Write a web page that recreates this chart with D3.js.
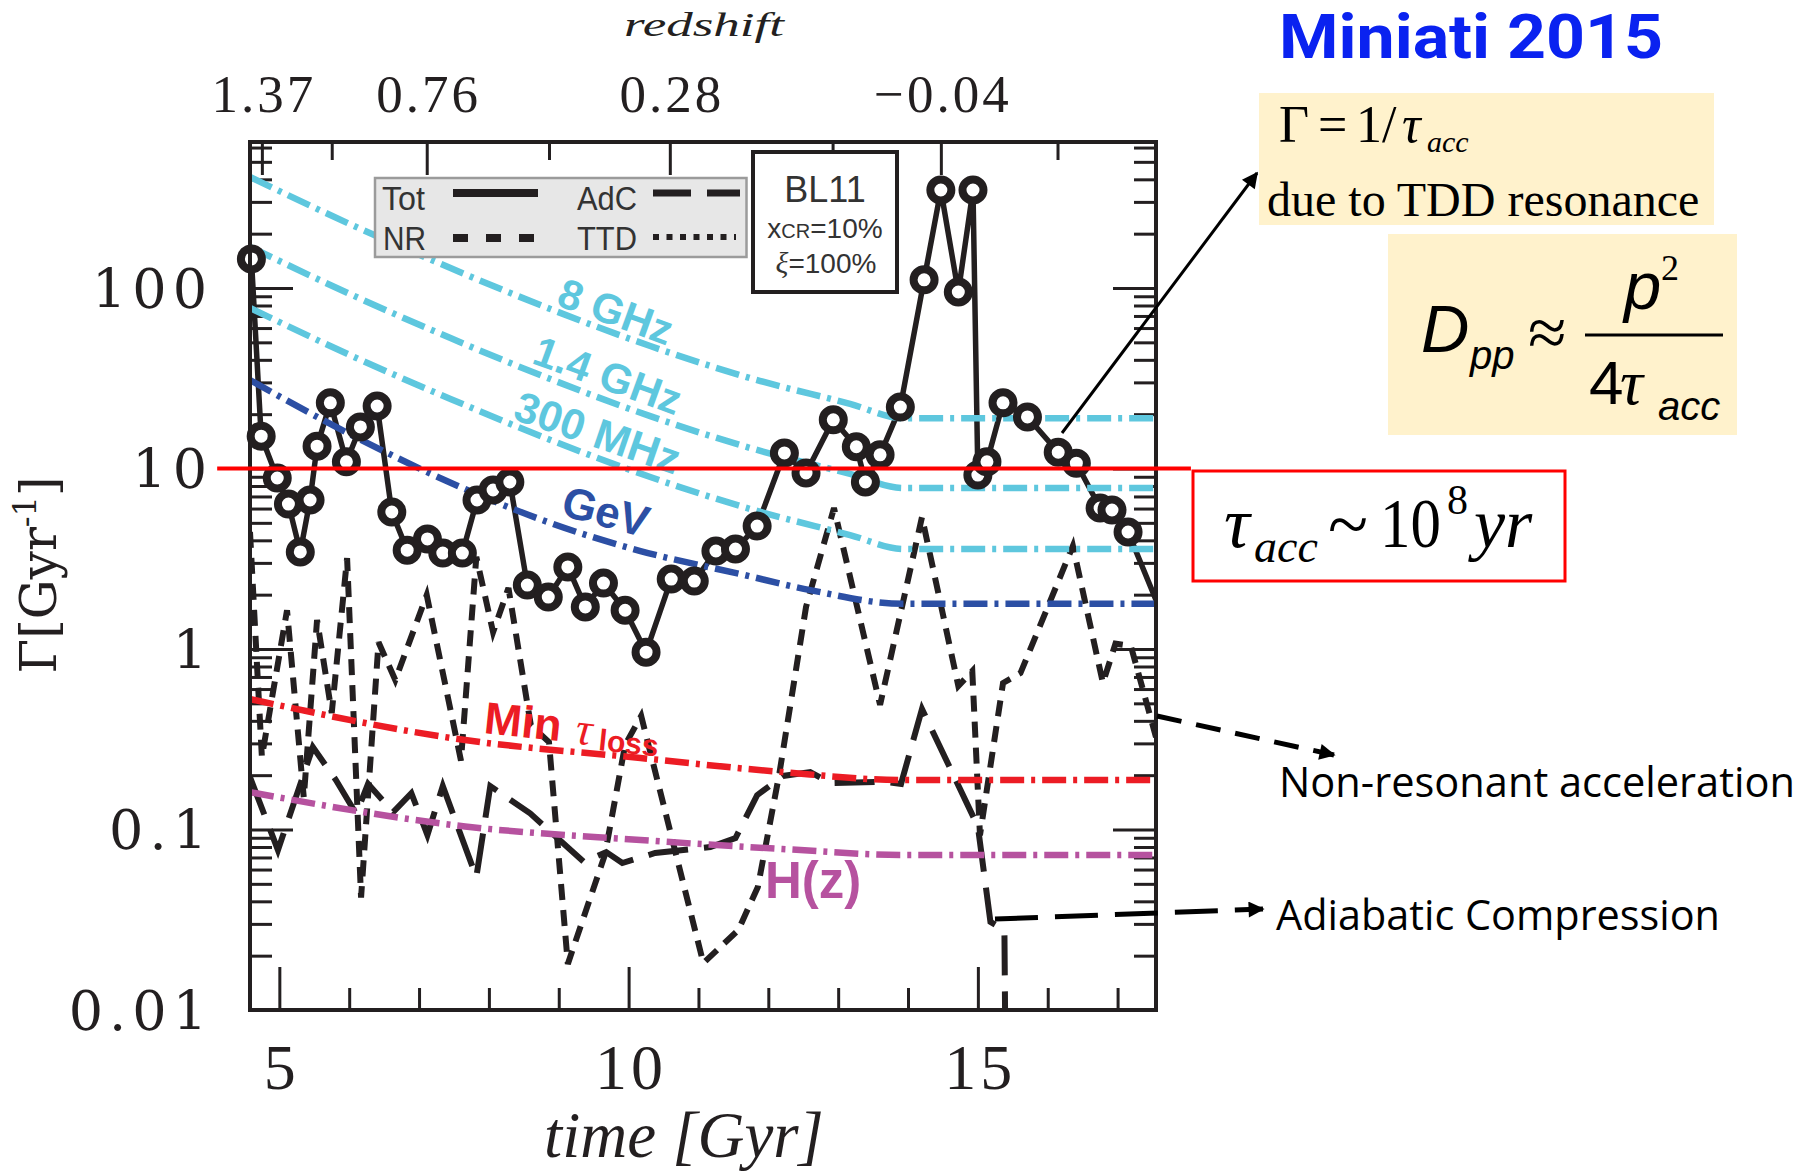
<!DOCTYPE html>
<html>
<head>
<meta charset="utf-8">
<title>Acceleration rates vs cosmic time</title>
<script src="https://cdn.jsdelivr.net/npm/d3@7/dist/d3.min.js"></script>
<style>
  html, body { margin: 0; padding: 0; background: #ffffff; }
  svg { display: block; }
</style>
</head>
<body>
<svg id="chart" width="1804" height="1174"></svg>
<script>
// ---- rates Γ [Gyr^-1] against cosmic time [Gyr] ----
// total turbulent acceleration rate (circles)
const totTime = [4.60, 4.74, 4.97, 5.13, 5.30, 5.44, 5.54, 5.73, 5.96, 6.16, 6.40, 6.61, 6.83, 7.12, 7.34, 7.62, 7.83, 8.06, 8.30, 8.55, 8.85, 9.13, 9.38, 9.64, 9.95, 10.25, 10.61, 10.94, 11.25, 11.53, 11.84, 12.23, 12.54, 12.93, 13.26, 13.39, 13.60, 13.89, 14.23, 14.47, 14.72, 14.93, 15.00, 15.13, 15.36, 15.71, 16.15, 16.41, 16.75, 16.92, 17.15, 17.71];
const totRate = [145, 15.1, 8.86, 6.35, 3.45, 6.69, 13.3, 23.1, 10.9, 17.0, 22.2, 5.74, 3.53, 4.07, 3.40, 3.40, 6.69, 7.60, 8.42, 2.26, 1.94, 2.85, 1.71, 2.32, 1.64, 0.96, 2.44, 2.38, 3.49, 3.58, 4.8, 12.2, 9.44, 18.6, 13.2, 8.42, 11.9, 21.9, 111, 349, 95, 349, 9.2, 10.9, 23.1, 19.3, 12.3, 10.7, 6.04, 5.89, 4.45, 1.32];

// non-resonant component
const nrTime = [4.58, 4.75, 5.11, 5.35, 5.54, 5.75, 5.97, 6.17, 6.42, 6.66, 7.11, 7.60, 7.82, 8.06, 8.28, 8.60, 8.86, 9.13, 9.66, 9.95, 10.18, 11.07, 11.57, 11.85, 12.16, 12.54, 12.94, 13.60, 14.20, 14.72, 14.92, 15.03, 15.36, 15.61, 16.36, 16.79, 16.97, 17.19, 17.55];
const nrRate = [4.45, 0.252, 1.64, 0.150, 1.45, 0.442, 3.19, 0.042, 1.09, 0.673, 1.99, 0.241, 3.24, 1.24, 2.18, 0.379, 0.305, 0.0180, 0.0723, 0.294, 0.426, 0.0182, 0.0277, 0.048, 0.206, 1.71, 6.04, 0.490, 5.38, 0.624, 0.755, 0.093, 0.648, 0.736, 3.72, 0.648, 1.07, 1.04, 0.325];

// adiabatic compression component
const adcTime = [4.58, 4.98, 5.48, 5.81, 6.10, 6.27, 6.63, 6.89, 7.12, 7.34, 7.82, 8.02, 8.59, 9.36, 9.68, 9.91, 10.38, 11.17, 11.53, 11.84, 12.21, 12.60, 12.89, 13.64, 13.90, 14.20, 15.00, 15.18, 15.38, 15.40];
const adcRate = [0.195, 0.0769, 0.286, 0.188, 0.122, 0.179, 0.125, 0.159, 0.0932, 0.174, 0.0545, 0.174, 0.123, 0.0661, 0.075, 0.0652, 0.0741, 0.080, 0.0897, 0.155, 0.198, 0.208, 0.181, 0.184, 0.179, 0.465, 0.104, 0.0308, 0.0277, 0.003];

// synchrotron / energy-loss reference rates
const syncTime = [4.58, 6.01, 7.45, 8.88, 10.31, 11.74, 13.17, 13.93, 17.55];
const ghz8Rate = [412, 226, 129, 76.5, 47.7, 31.7, 22.8, 19.0, 19.0];
const ghz14Rate = [169, 92.6, 52.8, 31.3, 19.5, 13.0, 9.33, 7.80, 7.80];
const mhz300Rate = [77.5, 42.5, 24.3, 14.4, 8.97, 5.97, 4.28, 3.58, 3.58];
const gevTime = [4.58, 6.01, 7.59, 8.88, 10.17, 11.60, 12.60, 13.93, 17.55];
const gevRate = [30.9, 15.5, 7.90, 4.99, 3.49, 2.60, 2.12, 1.78, 1.78];
const slowTime = [4.58, 7.66, 10.17, 12.20, 13.93, 17.55];
const lossRate = [0.528, 0.313, 0.249, 0.208, 0.188, 0.188];
const hubbleRate = [0.161, 0.104, 0.0875, 0.078, 0.0723, 0.0723];

// reference rate Γ = 1/τacc with τacc ~ 1e8 yr
const tauLineTime = [4.11, 18.05];
const tauLineRate = [10, 10];

// axis ticks
const yTickValues = [0.01, 0.1, 1, 10, 100];
const yTickLabels = ['0.01', '0.1', '1', '10', '100'];
const xTickValues = [5, 10, 15];
const xMinorTicks = [6, 7, 8, 9, 11, 12, 13, 14, 16, 17];
const zTickTime = [4.75, 7.11, 10.59, 14.47];
const zTickLabels = ['1.37', '0.76', '0.28', '\u22120.04'];
const zMinorTime = [5.75, 8.86, 12.92, 16.14];

// ---- layout ----
const svg = d3.select('#chart');
const ink = '#231f20';
const plot = { left: 250, right: 1156, top: 142, bottom: 1010 };
const cyan = '#5ec7de', navy = '#2c4fa4', red = '#ec1c24', magenta = '#b6529f';

const x = d3.scaleLinear().domain([4.58, 17.55]).range([plot.left, plot.right]);
const y = d3.scaleLog().domain([0.01, 644]).range([plot.bottom, plot.top]);

const zip = (ts, vs) => ts.map((t, i) => ({ t, v: vs[i] }));
const yMinor = [];
[0.01, 0.1, 1, 10, 100].forEach(d => { for (let k = 2; k <= 9; k++) { const v = d * k; if (v <= 644) yMinor.push(v); } });

const defs = svg.append('defs');
defs.append('clipPath').attr('id', 'plotArea').append('rect')
  .attr('x', plot.left).attr('y', plot.top)
  .attr('width', plot.right - plot.left).attr('height', plot.bottom - plot.top);
defs.append('marker').attr('id', 'head').attr('viewBox', '0 0 10 10')
  .attr('refX', 9).attr('refY', 5).attr('markerUnits', 'userSpaceOnUse')
  .attr('markerWidth', 22).attr('markerHeight', 16).attr('orient', 'auto')
  .append('path').attr('d', 'M0,0 L10,5 L0,10 Z').attr('fill', '#000');

// ---- axes ----
function styleAxis(g) {
  g.select('.domain').remove();
  g.selectAll('.tick line').attr('stroke', ink).attr('stroke-width', 3);
  g.selectAll('text').attr('fill', ink);
}
svg.append('g').attr('transform', `translate(${plot.left},0)`)
  .call(d3.axisLeft(y).tickValues(yMinor).tickFormat('').tickSize(-22))
  .call(styleAxis);
svg.append('g').attr('transform', `translate(${plot.left},0)`)
  .call(d3.axisLeft(y).tickValues(yTickValues).tickFormat((d, i) => yTickLabels[i]).tickSize(-43).tickPadding(37))
  .call(styleAxis)
  .call(g => g.selectAll('text').attr('font-family', "'DejaVu Serif', serif").attr('font-size', 54).attr('letter-spacing', 6).attr('dy', '0.36em'));
svg.append('g').attr('transform', `translate(${plot.right},0)`)
  .call(d3.axisRight(y).tickValues(yMinor).tickFormat('').tickSize(-22))
  .call(styleAxis);
svg.append('g').attr('transform', `translate(${plot.right},0)`)
  .call(d3.axisRight(y).tickValues(yTickValues).tickFormat('').tickSize(-43))
  .call(styleAxis);
svg.append('g').attr('transform', `translate(0,${plot.bottom})`)
  .call(d3.axisBottom(x).tickValues(xMinorTicks).tickFormat('').tickSize(-22))
  .call(styleAxis);
svg.append('g').attr('transform', `translate(0,${plot.bottom})`)
  .call(d3.axisBottom(x).tickValues(xTickValues).tickFormat(d3.format('d')).tickSize(-43).tickPadding(34))
  .call(styleAxis)
  .call(g => g.selectAll('text').attr('font-family', "'Liberation Serif', serif").attr('font-size', 64).attr('letter-spacing', 4).attr('dx', 2));
svg.append('g').attr('transform', `translate(0,${plot.top})`)
  .call(d3.axisTop(x).tickValues(zMinorTime).tickFormat('').tickSize(-18))
  .call(styleAxis);
svg.append('g').attr('transform', `translate(0,${plot.top})`)
  .call(d3.axisTop(x).tickValues(zTickTime).tickFormat((d, i) => zTickLabels[i]).tickSize(-33).tickPadding(30))
  .call(styleAxis)
  .call(g => g.selectAll('text').attr('font-family', "'Liberation Serif', serif").attr('font-size', 53).attr('letter-spacing', 3).attr('dx', 1.5));

// axis titles
svg.append('text').attr('x', 704).attr('y', 36).attr('text-anchor', 'middle')
  .attr('font-family', "'Liberation Serif', serif").attr('font-style', 'italic').attr('font-size', 34)
  .attr('textLength', 160).attr('lengthAdjust', 'spacingAndGlyphs').attr('fill', ink).text('redshift');
svg.append('text').attr('x', 684).attr('y', 1157).attr('text-anchor', 'middle')
  .attr('font-family', "'Liberation Serif', serif").attr('font-style', 'italic').attr('font-size', 65)
  .attr('fill', ink).text('time [Gyr]');
const yTitle = svg.append('text').attr('transform', 'translate(56,575) rotate(-90)')
  .attr('text-anchor', 'middle').attr('font-family', "'DejaVu Serif', serif").attr('font-size', 50).attr('fill', ink);
yTitle.append('tspan').text('\u0393[Gyr');
yTitle.append('tspan').attr('font-size', 32).attr('dy', -20).text('-1');
yTitle.append('tspan').attr('dy', 20).text(']');

// ---- curves ----
const plotG = svg.append('g').attr('clip-path', 'url(#plotArea)');
const straight = d3.line().x(d => x(d.t)).y(d => y(d.v));
const smooth = d3.line().curve(d3.curveMonotoneX).x(d => x(d.t)).y(d => y(d.v));

// model data: total with open circles, non-resonant, adiabatic
plotG.append('path').datum(zip(nrTime, nrRate)).attr('d', straight)
  .attr('fill', 'none').attr('stroke', ink).attr('stroke-width', 6).attr('stroke-dasharray', '16,10');
plotG.append('path').datum(zip(adcTime, adcRate)).attr('d', straight)
  .attr('fill', 'none').attr('stroke', ink).attr('stroke-width', 6).attr('stroke-dasharray', '40,16');

const totData = zip(totTime, totRate);
svg.append('g').selectAll('circle').data(totData.filter(d => d.t <= x.domain()[1])).join('circle')
  .attr('cx', d => x(d.t)).attr('cy', d => y(d.v)).attr('r', 10.5)
  .attr('fill', '#fff').attr('stroke', ink).attr('stroke-width', 8);
plotG.append('path').datum(totData).attr('d', straight)
  .attr('fill', 'none').attr('stroke', ink).attr('stroke-width', 5.5).attr('stroke-linejoin', 'round');

// reference rates (dash-dot)
const refCurves = [
  { t: syncTime, v: ghz8Rate, c: cyan },
  { t: syncTime, v: ghz14Rate, c: cyan },
  { t: syncTime, v: mhz300Rate, c: cyan },
  { t: gevTime, v: gevRate, c: navy },
  { t: slowTime, v: lossRate, c: red },
  { t: slowTime, v: hubbleRate, c: magenta }
];
refCurves.forEach(rc => {
  plotG.append('path').datum(zip(rc.t, rc.v)).attr('d', smooth)
    .attr('fill', 'none').attr('stroke', rc.c).attr('stroke-width', 6.5)
    .attr('stroke-dasharray', '24,7,4,7');
});

// curve labels
function curveLabel(txt, cx, cy, angle, size, color) {
  svg.append('text').attr('transform', `translate(${cx},${cy}) rotate(${angle})`)
    .attr('text-anchor', 'middle').attr('dy', '0.36em')
    .attr('font-family', "'Liberation Sans', Arial, sans-serif").attr('font-weight', 'bold')
    .attr('font-size', size).attr('fill', color).text(txt);
}
curveLabel('8 GHz', 616, 311, 20, 42, cyan);
curveLabel('1.4 GHz', 608, 375, 20, 42, cyan);
curveLabel('300 MHz', 598, 432, 19, 43, cyan);
curveLabel('GeV', 606, 511, 15, 44, navy);
svg.append('text').attr('x', 765).attr('y', 898)
  .attr('font-family', "'Liberation Sans', Arial, sans-serif").attr('font-weight', 'bold')
  .attr('font-size', 51).attr('fill', magenta).text('H(z)');
const minLab = svg.append('g').attr('transform', 'translate(483,733) rotate(6)').attr('fill', red);
minLab.append('text').attr('font-family', "'Liberation Sans', Arial, sans-serif").attr('font-weight', 'bold')
  .attr('font-size', 45).text('Min');
minLab.append('text').attr('x', 92).attr('y', 1).attr('font-family', "'Liberation Serif', serif")
  .attr('font-style', 'italic').attr('font-size', 46).text('\u03c4');
minLab.append('text').attr('x', 116).attr('y', 5).attr('font-family', "'Liberation Sans', Arial, sans-serif")
  .attr('font-weight', 'bold').attr('font-size', 30).text('loss');

// frame
svg.append('rect').attr('x', plot.left).attr('y', plot.top)
  .attr('width', plot.right - plot.left).attr('height', plot.bottom - plot.top)
  .attr('fill', 'none').attr('stroke', ink).attr('stroke-width', 4);

// ---- legend ----
const lg = svg.append('g');
lg.append('rect').attr('x', 375).attr('y', 178).attr('width', 371.5).attr('height', 79)
  .attr('fill', '#e7e7e7').attr('stroke', '#9b9b9b').attr('stroke-width', 2.5);
const legendFont = "'Liberation Sans', Arial, sans-serif";
[
  { txt: 'Tot', x: 382, y: 210, w: 43 },
  { txt: 'NR', x: 383, y: 250, w: 43 },
  { txt: 'AdC', x: 577, y: 210, w: 60 },
  { txt: 'TTD', x: 577, y: 250, w: 60 }
].forEach(e => lg.append('text').attr('x', e.x).attr('y', e.y).attr('font-family', legendFont)
  .attr('font-size', 34).attr('fill', '#333').attr('textLength', e.w).attr('lengthAdjust', 'spacingAndGlyphs').text(e.txt));
lg.append('line').attr('x1', 453).attr('x2', 538).attr('y1', 193).attr('y2', 193)
  .attr('stroke', ink).attr('stroke-width', 8);
lg.append('line').attr('x1', 453).attr('x2', 536).attr('y1', 238).attr('y2', 238)
  .attr('stroke', ink).attr('stroke-width', 8).attr('stroke-dasharray', '15,18');
lg.append('line').attr('x1', 653).attr('x2', 740).attr('y1', 193).attr('y2', 193)
  .attr('stroke', ink).attr('stroke-width', 7).attr('stroke-dasharray', '38,16');
lg.append('line').attr('x1', 653).attr('x2', 736).attr('y1', 237).attr('y2', 237)
  .attr('stroke', ink).attr('stroke-width', 6).attr('stroke-dasharray', '6,7.5');

// run parameters box
const bl = svg.append('g');
bl.append('rect').attr('x', 753).attr('y', 152).attr('width', 144).attr('height', 140)
  .attr('fill', '#fff').attr('stroke', ink).attr('stroke-width', 4);
bl.append('text').attr('x', 825).attr('y', 202).attr('text-anchor', 'middle').attr('font-family', legendFont)
  .attr('font-size', 36).attr('fill', '#333').text('BL11');
const xcr = bl.append('text').attr('x', 825).attr('y', 238).attr('text-anchor', 'middle').attr('font-family', legendFont)
  .attr('font-size', 28).attr('fill', '#333');
xcr.append('tspan').text('x');
xcr.append('tspan').attr('font-size', 20).text('CR');
xcr.append('tspan').text('=10%');
const xi = bl.append('text').attr('x', 826).attr('y', 273).attr('text-anchor', 'middle').attr('font-family', legendFont)
  .attr('font-size', 28).attr('fill', '#333');
xi.append('tspan').attr('font-family', "'Liberation Serif', serif").attr('font-style', 'italic').attr('font-size', 30).text('\u03be');
xi.append('tspan').text('=100%');

// ---- annotations ----
svg.append('line').datum(zip(tauLineTime, tauLineRate))
  .attr('x1', d => x(d[0].t)).attr('y1', d => y(d[0].v))
  .attr('x2', d => x(d[1].t)).attr('y2', d => y(d[1].v))
  .attr('stroke', '#ff0000').attr('stroke-width', 4);

svg.append('text').attr('x', 1279).attr('y', 58)
  .attr('font-family', "Roboto, 'Open Sans', sans-serif").attr('font-weight', 'bold').attr('font-size', 62)
  .attr('textLength', 384).attr('lengthAdjust', 'spacingAndGlyphs').attr('fill', '#0a22f0').text('Miniati 2015');

const serif = "'Liberation Serif', 'Times New Roman', serif";
const sans = "'Liberation Sans', Arial, sans-serif";
function txt(s, xx, yy, size, opts = {}) {
  const t = svg.append('text').attr('x', xx).attr('y', yy).attr('font-size', size)
    .attr('font-family', opts.family || serif).attr('fill', opts.fill || '#000').text(s);
  if (opts.italic) t.attr('font-style', 'italic');
  if (opts.len) t.attr('textLength', opts.len).attr('lengthAdjust', 'spacingAndGlyphs');
  return t;
}

// Γ = 1/τacc box
svg.append('rect').attr('x', 1259).attr('y', 93).attr('width', 455).attr('height', 132).attr('fill', '#fff2cc');
txt('\u0393', 1279, 142, 52);
txt('=', 1318, 142, 52);
txt('1/', 1356, 142, 52);
txt('\u03c4', 1402, 142, 52, { italic: true });
txt('acc', 1427, 152, 30, { italic: true });
txt('due to TDD resonance', 1267, 216, 48);

// Dpp box
svg.append('rect').attr('x', 1388).attr('y', 234).attr('width', 349).attr('height', 201).attr('fill', '#fff2cc');
txt('D', 1421, 352, 67, { italic: true, family: sans });
txt('pp', 1470, 369, 40, { italic: true, family: sans });
txt('\u2248', 1528, 356, 70, { family: serif });
txt('p', 1624, 309, 67, { italic: true, family: sans });
txt('2', 1661, 280, 36);
svg.append('line').attr('x1', 1585).attr('x2', 1723).attr('y1', 335).attr('y2', 335).attr('stroke', '#000').attr('stroke-width', 3);
txt('4', 1589, 404, 62, { family: sans });
txt('\u03c4', 1620, 404, 64, { italic: true });
txt('acc', 1658, 420, 40, { italic: true, family: sans });

// τacc ~ 1e8 yr box
svg.append('rect').attr('x', 1193).attr('y', 471).attr('width', 372).attr('height', 110)
  .attr('fill', '#fff').attr('stroke', '#ff0000').attr('stroke-width', 3);
txt('\u03c4', 1224, 547, 72, { italic: true });
txt('acc', 1254, 562, 46, { italic: true });
txt('~', 1328, 549, 74);
svg.append('text').attr('transform', 'translate(1380,547) scale(0.87,1)')
  .attr('font-family', serif).attr('font-size', 70).attr('fill', '#000').text('10');
txt('8', 1447, 514, 42);
txt('yr', 1474, 547, 70, { italic: true });

// pointer arrows
svg.append('line').attr('x1', 1062).attr('y1', 433).attr('x2', 1257).attr('y2', 173)
  .attr('stroke', '#000').attr('stroke-width', 3).attr('marker-end', 'url(#head)');
svg.append('line').attr('x1', 1157).attr('y1', 716).attr('x2', 1334).attr('y2', 755)
  .attr('stroke', '#000').attr('stroke-width', 5).attr('stroke-dasharray', '25,15').attr('marker-end', 'url(#head)');
svg.append('line').attr('x1', 995).attr('y1', 919).attr('x2', 1263).attr('y2', 909)
  .attr('stroke', '#000').attr('stroke-width', 5).attr('stroke-dasharray', '43,17').attr('marker-end', 'url(#head)');

txt('Non-resonant acceleration', 1279, 797, 42, { family: "'Open Sans', sans-serif", len: 516 });
txt('Adiabatic Compression', 1276, 930, 42, { family: "'Open Sans', sans-serif", len: 444 });
</script>
</body>
</html>
